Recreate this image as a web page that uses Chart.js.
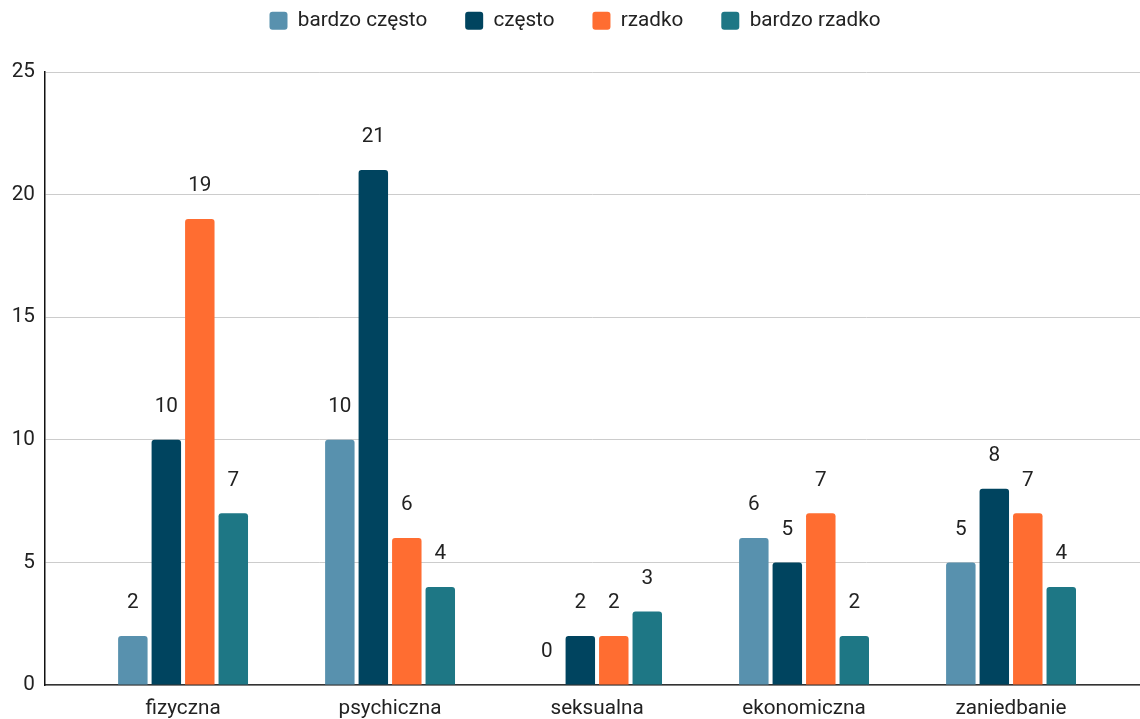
<!DOCTYPE html>
<html>
<head>
<meta charset="utf-8">
<script src="https://cdn.jsdelivr.net/npm/chart.js@4/dist/chart.umd.min.js"></script>
<style>
html,body{margin:0;padding:0;background:#fff;}
#wrap{width:1140px;height:719px;position:relative;}
</style>
</head>
<body>
<div id="wrap"><canvas id="c" width="1140" height="719"></canvas></div>
<script>
const categories = ["fizyczna", "psychiczna", "seksualna", "ekonomiczna", "zaniedbanie"];
const seriesNames = ["bardzo często", "często", "rzadko", "bardzo rzadko"];
const bardzoCzesto = [2, 10, 0, 6, 5];
const czesto = [10, 21, 2, 5, 8];
const rzadko = [19, 6, 2, 7, 7];
const bardzoRzadko = [7, 4, 3, 2, 4];
const yTicks = [0, 5, 10, 15, 20, 25];

const colors = ["#5891ae", "#00445f", "#ff6d31", "#1e7785"];
const seriesValues = [bardzoCzesto, czesto, rzadko, bardzoRzadko];

const FONT = "Roboto, 'Noto Sans', sans-serif";
const FS = 20.7;

const valueLabels = {
  id: 'valueLabels',
  afterDatasetsDraw(chart) {
    const ctx = chart.ctx;
    ctx.save();
    ctx.font = FS + "px " + FONT;
    ctx.fillStyle = "#222";
    ctx.textAlign = "center";
    ctx.textBaseline = "middle";
    chart.data.datasets.forEach((ds, di) => {
      const meta = chart.getDatasetMeta(di);
      meta.data.forEach((el, i) => {
        ctx.fillText(String(ds.data[i].y), el.x, el.y - 33);
      });
    });
    ctx.restore();
  }
};

const legendShift = {
  id: 'legendShift',
  afterLayout(chart) {
    const lg = chart.legend;
    if (!lg) return;
    lg.top -= 31; lg.bottom -= 31;
    lg.left += 5; lg.right += 5;
  }
};

new Chart(document.getElementById('c'), {
  type: 'bar',
  data: {
    datasets: seriesNames.map((name, s) => ({
      label: name,
      data: seriesValues[s].map((v, i) => ({ x: i, y: v })),
      backgroundColor: colors[s],
      borderRadius: { topLeft: 3, topRight: 3 },
      borderSkipped: 'bottom',
      categoryPercentage: 0.647,
      barPercentage: 0.88
    }))
  },
  options: {
    responsive: false,
    animation: false,
    layout: { padding: { top: -27, right: 0, left: 0, bottom: 0 } },
    plugins: {
      legend: {
        position: 'top',
        labels: {
          font: { family: FONT, size: FS },
          color: '#222',
          boxWidth: 18,
          boxHeight: 18,
          useBorderRadius: true,
          borderRadius: 3,
          padding: 38
        }
      },
      tooltip: { enabled: false }
    },
    scales: {
      x: {
        type: 'linear',
        offset: false,
        min: -0.667,
        max: 4.623,
        afterBuildTicks: (scale) => { scale.ticks = categories.map((c, i) => ({ value: i })); },
        ticks: {
          autoSkip: false,
          maxRotation: 0,
          font: { family: FONT, size: FS },
          color: '#222',
          padding: 11,
          callback: (v) => categories[v]
        },
        grid: { display: false, drawTicks: false },
        border: { display: true, color: '#333', width: 1.5 },
        afterFit: (scale) => { scale.height = 34; }
      },
      y: {
        min: 0,
        max: 25,
        afterBuildTicks: (scale) => { scale.ticks = yTicks.map(v => ({ value: v })); },
        ticks: {
          font: { family: FONT, size: FS },
          color: '#222',
          padding: 10
        },
        grid: { color: '#cccccc', lineWidth: 1, drawTicks: false },
        border: { display: true, color: '#111', width: 1.5 },
        afterFit: (scale) => { scale.width = 45; scale.paddingTop = 72; }
      }
    }
  },
  plugins: [valueLabels, legendShift]
});
</script>
</body>
</html>
